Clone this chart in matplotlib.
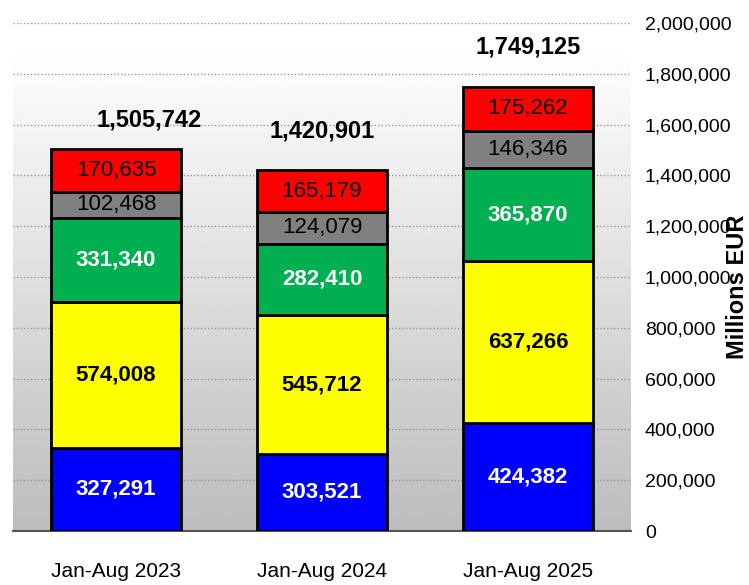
import numpy as np
import matplotlib
matplotlib.use("Agg")
import matplotlib.pyplot as plt
from matplotlib.ticker import FuncFormatter

plt.rcParams['font.family'] = ['Liberation Sans', 'DejaVu Sans']

periods = ["Jan-Aug 2023", "Jan-Aug 2024", "Jan-Aug 2025"]
blue = [327291, 303521, 424382]
yellow = [574008, 545712, 637266]
green = [331340, 282410, 365870]
grey = [102468, 124079, 146346]
red = [170635, 165179, 175262]
totals = [1505742, 1420901, 1749125]

series = [
    (blue, "#0000FF", "white", "bold"),
    (yellow, "#FFFF00", "black", "bold"),
    (green, "#00B050", "white", "bold"),
    (grey, "#808080", "black", "normal"),
    (red, "#FF0000", "black", "normal"),
]

fig = plt.figure(figsize=(7.49, 5.85), dpi=100)
ax = fig.add_axes([0.0174, 0.0923, 0.825, 0.8684])
x = np.arange(len(periods))

# grey gradient behind the bars
grad = np.linspace(0.74, 1.0, 256).reshape(-1, 1)
ax.imshow(grad, cmap="gray", vmin=0, vmax=1, aspect="auto", origin="lower",
          extent=(-0.5, 2.5, 0, 1.9e6), zorder=0, interpolation="bicubic")

bottom = np.zeros(len(periods))
for vals, col, tcol, weight in series:
    ax.bar(x, vals, width=0.63, bottom=bottom, color=col, edgecolor="black",
           linewidth=2, zorder=3)
    for i, v in enumerate(vals):
        ax.text(x[i], bottom[i] + v / 2, f"{v:,}", ha="center", va="center",
                color=tcol, fontsize=16, fontweight=weight, zorder=4)
    bottom += np.array(vals)

label_shift = [0.16, 0.0, 0.0]
label_gap = [112000, 154000, 156000]
for i, t in enumerate(totals):
    ax.text(x[i] + label_shift[i], t + label_gap[i], f"{t:,}", ha="center",
            va="center", fontsize=17, fontweight="bold", zorder=4)

ax.set_xlim(-0.5, 2.5)
ax.set_ylim(0, 2000000)
ax.set_yticks(np.arange(0, 2000001, 200000))
ax.yaxis.set_major_formatter(FuncFormatter(lambda v, p: f"{int(v):,}"))
ax.yaxis.tick_right()
ax.tick_params(axis="y", length=0, labelsize=14, pad=10)
ax.tick_params(axis="x", length=0, labelsize=15, pad=22)
ax.set_xticks(x)
ax.set_xticklabels(periods)
ax.grid(axis="y", linestyle=(0, (1, 1.5)), color="#999999", linewidth=1, zorder=1)
ax.set_axisbelow(True)
for s in ["top", "left", "right"]:
    ax.spines[s].set_visible(False)
ax.spines["bottom"].set_color("#555555")
ax.spines["bottom"].set_linewidth(1.5)
ax.text(1.172, 0.48, "Millions EUR", transform=ax.transAxes, rotation=90,
        ha="center", va="center", fontsize=17, fontweight="bold")

plt.savefig("out.png", dpi=100)
